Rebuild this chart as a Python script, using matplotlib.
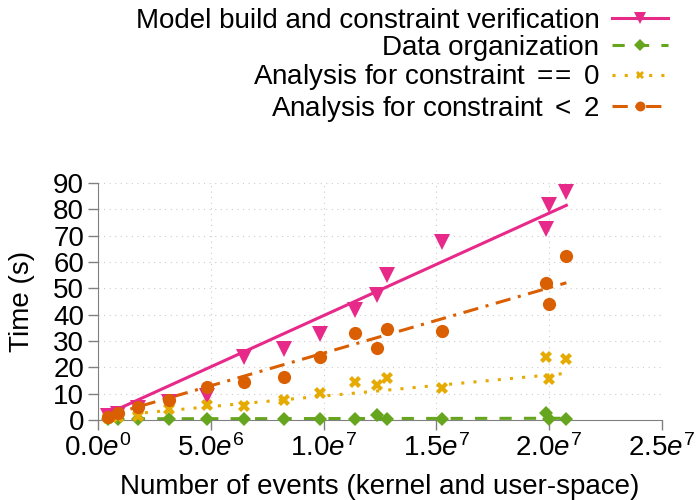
import numpy as np
import matplotlib
matplotlib.use("Agg")
import matplotlib.pyplot as plt
from matplotlib.ticker import FixedLocator, FixedFormatter

plt.rcParams['font.family'] = ['Liberation Sans', 'DejaVu Sans']
plt.rcParams['mathtext.fontset'] = 'custom'
plt.rcParams['mathtext.rm'] = 'Liberation Sans'
plt.rcParams['mathtext.it'] = 'Liberation Sans:italic'

# number of events (shared by all series)
events = [0.46e6, 0.9e6, 1.79e6, 3.17e6, 4.83e6, 6.49e6, 8.24e6, 9.84e6,
          11.38e6, 12.36e6, 12.8e6, 15.27e6, 19.88e6, 20.0e6, 20.77e6]

model_build = [1.5, 2.2, 4.5, 6.8, 9.1, 23.8, 26.8, 32.7,
               41.8, 47.3, 55.0, 67.5, 72.4, 81.5, 86.6]
data_org = [0.2, 0.2, 0.2, 0.2, 0.2, 0.2, 0.2, 0.2,
            0.2, 1.9, 0.2, 0.2, 2.6, 0.5, 0.3]
analysis_eq0 = [0.8, 1.0, 1.6, 4.1, 5.7, 5.3, 7.6, 10.1,
                14.6, 13.3, 15.8, 12.0, 24.0, 15.4, 23.0]
analysis_lt2 = [1.3, 2.6, 4.8, 7.6, 12.7, 14.6, 16.5, 23.8,
                32.9, 27.2, 34.4, 33.9, 51.9, 43.9, 62.4]

# linear trend lines as drawn in the chart (seconds per event, seconds)
trend_slope = [3.89e-6, 0.01e-6, 0.80e-6, 2.48e-6]
trend_icept = [0.73, 0.45, 1.1, 0.6]

labels = ['Model build and constraint verification', 'Data organization',
          r'Analysis for constraint $=\!\!=$ 0', r'Analysis for constraint $<$ 2']

xticks = [0, 5e6, 1e7, 1.5e7, 2e7, 2.5e7]
xtick_labels = [r'$0.0e^{0}$', r'$5.0e^{6}$', r'$1.0e^{7}$',
                r'$1.5e^{7}$', r'$2.0e^{7}$', r'$2.5e^{7}$']

series = [
    (model_build, '#e7298a', 'v', '-', 11),
    (data_org, '#66a61e', 'D', (0, (4, 4)), 7.5),
    (analysis_eq0, '#e6ab02', 'X', (0, (1, 3)), 8.5),
    (analysis_lt2, '#d95f02', 'o', (0, (5, 2.5, 1, 2.5)), 9.5),
]

fig = plt.figure(figsize=(6.96, 5.0), dpi=100)
ax = fig.add_axes([0.1408, 0.16, 0.810, 0.474])

x = np.array(events)
xs = np.array([x.min(), x.max()])
handles = []
for (vals, col, mk, ls, ms), lab, k, b in zip(series, labels, trend_slope, trend_icept):
    ax.plot(x, vals, linestyle='none', marker=mk, color=col, markersize=ms,
            markeredgewidth=0, clip_on=False, zorder=3)
    ax.plot(xs, k * xs + b, color=col, linestyle=ls, linewidth=2.2, zorder=2)
    h, = ax.plot([], [], color=col, linestyle=ls, linewidth=2.2, marker=mk,
                 markersize=ms * 0.75, markeredgewidth=0)
    handles.append(h)

ax.set_xlim(0, 2.5e7)
ax.set_ylim(0, 90)
ax.xaxis.set_major_locator(FixedLocator(xticks))
ax.xaxis.set_major_formatter(FixedFormatter(xtick_labels))
ax.set_yticks(range(0, 91, 10))
ax.tick_params(labelsize=20, color='#808080', length=7, width=1, pad=3)
for s in ['top', 'right']:
    ax.spines[s].set_visible(False)
for s in ['left', 'bottom']:
    ax.spines[s].set_color('#808080')
ax.grid(True, linestyle=(0, (1, 4)), color='#cccccc', linewidth=0.8)
ax.set_axisbelow(True)
ax.set_xlabel('Number of events (kernel and user-space)', fontsize=20, labelpad=9)
ax.set_ylabel('Time (s)', fontsize=20, labelpad=13)

fig.legend(handles, labels, loc='upper right', bbox_to_anchor=(0.995, 1.035),
           frameon=False, markerfirst=False, fontsize=20, handlelength=2.0,
           labelspacing=0.05, handletextpad=0.45)

fig.savefig('out.png', dpi=100)
